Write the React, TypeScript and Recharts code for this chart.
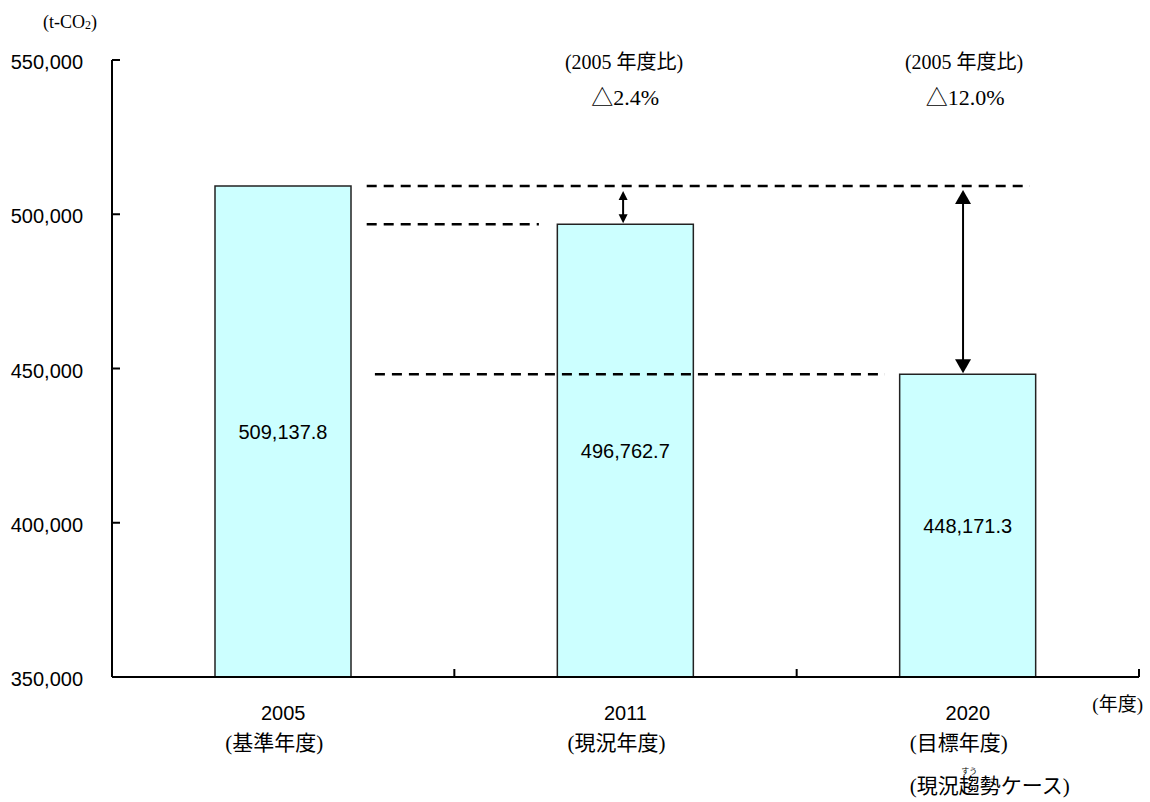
import React from 'react'
import { BarChart, Bar, XAxis, YAxis, ReferenceLine, LabelList } from 'recharts'

// ---- data ----
const years = ['2005', '2011', '2020']
const yearNotes = [['(基準年度)'], ['(現況年度)'], ['(目標年度)', '(現況趨勢ケース)']]
const emissions = [509137.8, 496762.7, 448171.3]
const changeNotes = ['', '△2.4%', '△12.0%']
const yTicks = [350000, 400000, 450000, 500000, 550000]
const slotTicks = [0, 1, 2, 3]

// pos: slot centre on the helper numeric axis (0..3)
const data = years.map((year, i) => ({ year, value: emissions[i], pos: i + 0.5 }))

const SANS = "'Liberation Sans', Arial, sans-serif"
const MINCHO = "'Liberation Serif', 'Noto Sans CJK JP', serif"

const fmtNum = (v: number) => v.toLocaleString('en-US')
const fmtLabel = (v: number) =>
  v.toLocaleString('en-US', { minimumFractionDigits: 1, maximumFractionDigits: 1 })
const blank = () => ''

// category label under each bar (year + notes)
function CategoryTick(props: any) {
  const { x, y, payload } = props
  const i = years.indexOf(payload.value)
  const notes = yearNotes[i] || []
  const left = x - 58
  return (
    <g>
      <text x={x} y={y + 36} textAnchor="middle" dominantBaseline="central"
        fontFamily={SANS} fontSize={20} fill="#000">{payload.value}</text>
      {notes.map((n, k) => (
        <text key={k} x={left} y={y + 66 + k * 43} textAnchor="start" dominantBaseline="central"
          fontFamily={MINCHO} fontSize={21} fill="#000">{n}</text>
      ))}
      {notes.length > 1 && (
        <text x={left + 7 + 21 * 2.5} y={y + 93} textAnchor="middle" dominantBaseline="central"
          fontFamily="'Noto Sans CJK JP'" fontSize={8} fill="#000">すう</text>
      )}
    </g>
  )
}

// double-headed arrow + comparison note above it
const arrowShape = (i: number, head: number, half: number, gapTop: number) => (p: any) => {
  const x = p.x1
  const top = Math.min(p.y1, p.y2) + gapTop
  const bot = Math.max(p.y1, p.y2) - 1
  return (
    <g>
      <line x1={x} x2={x} y1={top + head - 1} y2={bot - head + 1} stroke="#000" strokeWidth={2} />
      <polygon points={`${x},${top} ${x - half},${top + head} ${x + half},${top + head}`} fill="#000" />
      <polygon points={`${x},${bot} ${x - half},${bot - head} ${x + half},${bot - head}`} fill="#000" />
      <text x={x + 1} y={62} textAnchor="middle" dominantBaseline="central"
        fontFamily={MINCHO} fontSize={20} fill="#000">(2005 年度比)</text>
      <text x={x + 2} y={97} textAnchor="middle" dominantBaseline="central"
        fontFamily={MINCHO} fontSize={22} fill="#000">{changeNotes[i]}</text>
    </g>
  )
}

const dash = { stroke: '#000', strokeWidth: 2.5, strokeDasharray: '10 7' }

export default function App() {
  return (
    <div style={{ position: 'absolute', left: 0, top: 0, background: '#fff' }}>
      <BarChart width={1150} height={802} data={data}
        margin={{ top: 60, right: 11, left: 0, bottom: 0 }}>
        <XAxis dataKey="year" interval={0} height={125}
          axisLine={{ stroke: '#000', strokeWidth: 2 }} tickLine={false} tickSize={0} tickMargin={0}
          tick={<CategoryTick />}
          label={{
            content: () => (
              <text x={1143} y={704} textAnchor="end" dominantBaseline="central"
                fontFamily={MINCHO} fontSize={19} fill="#000">(年度)</text>
            ),
          }}
        />
        {/* helper axis: slot boundaries, inward tick marks */}
        <XAxis xAxisId="edge" dataKey="pos" type="number" domain={[0, 3]} ticks={slotTicks}
          allowDataOverflow interval={0} mirror height={1} axisLine={false}
          tickFormatter={blank} tick={{ fontSize: 1 }}
          tickLine={{ stroke: '#000', strokeWidth: 2 }} tickSize={8} />
        <YAxis domain={[350000, 550000]} ticks={yTicks} width={112} allowDataOverflow interval={0}
          axisLine={{ stroke: '#000', strokeWidth: 2 }} tickLine={false} tickSize={0} tickMargin={29}
          tickFormatter={fmtNum}
          tick={{ fill: '#000', fontSize: 20, fontFamily: SANS, dy: 2 }}
          label={{
            content: () => (
              <text x={70} y={22} textAnchor="middle" dominantBaseline="central"
                fontFamily={MINCHO} fontSize={18} fill="#000">
                (t-CO<tspan fontSize={12} dy={3}>2</tspan><tspan dy={-3}>)</tspan>
              </text>
            ),
          }}
        />
        <YAxis yAxisId="edge" dataKey="value" type="number" domain={[350000, 550000]} ticks={yTicks}
          allowDataOverflow interval={0} mirror width={1} axisLine={false}
          tickFormatter={blank} tick={{ fontSize: 1 }}
          tickLine={{ stroke: '#000', strokeWidth: 2 }} tickSize={8} />

        <Bar dataKey="value" fill="#CCFFFF" stroke="#222" strokeWidth={1.5} barSize={136}
          isAnimationActive={false}>
          <LabelList dataKey="value" position="center" formatter={fmtLabel}
            fill="#000" fontSize={20} fontFamily={SANS} />
        </Bar>

        {/* guide lines at each year's level */}
        <ReferenceLine xAxisId="edge" ifOverflow="visible"
          segment={[{ x: 0.744, y: emissions[0] }, { x: 2.681, y: emissions[0] }]} {...dash} />
        <ReferenceLine xAxisId="edge" ifOverflow="visible"
          segment={[{ x: 0.744, y: emissions[1] }, { x: 1.247, y: emissions[1] }]} {...dash} />
        <ReferenceLine xAxisId="edge" ifOverflow="visible"
          segment={[{ x: 0.768, y: emissions[2] }, { x: 2.258, y: emissions[2] }]} {...dash} />

        {/* difference arrows */}
        <ReferenceLine xAxisId="edge" ifOverflow="visible"
          segment={[{ x: 1.493, y: emissions[0] }, { x: 1.493, y: emissions[1] }]}
          shape={arrowShape(1, 9, 4.5, 5)} />
        <ReferenceLine xAxisId="edge" ifOverflow="visible"
          segment={[{ x: 2.486, y: emissions[0] }, { x: 2.486, y: emissions[2] }]}
          shape={arrowShape(2, 14, 8, 4)} />
      </BarChart>
    </div>
  )
}
